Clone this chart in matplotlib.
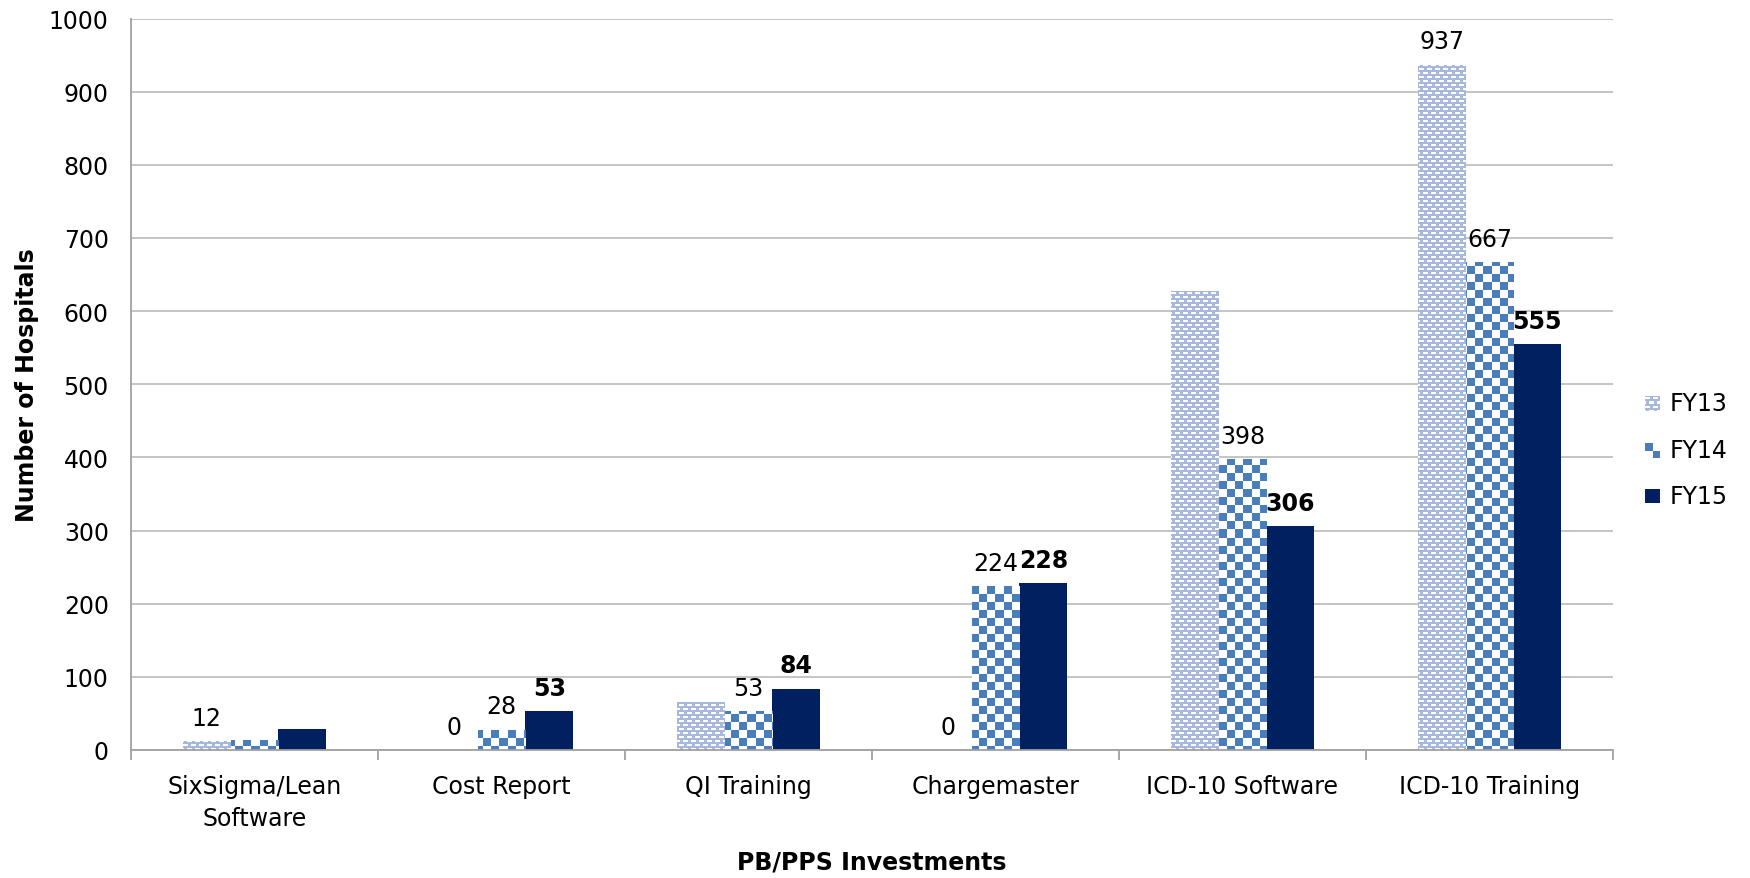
import numpy as np
import matplotlib
matplotlib.use("Agg")
import matplotlib.pyplot as plt

categories = ["SixSigma/Lean\nSoftware", "Cost Report", "QI Training",
              "Chargemaster", "ICD-10 Software", "ICD-10 Training"]
series_names = ["FY13", "FY14", "FY15"]
fy13 = [12, 0, 65, 0, 627, 937]
fy14 = [14, 28, 53, 224, 398, 667]
fy15 = [29, 53, 84, 228, 306, 555]
# labels shown in the original chart (None = no label)
fy13_labels = [12, 0, None, 0, None, 937]
fy14_labels = [None, 28, 53, 224, 398, 667]
fy15_labels = [None, 53, 84, 228, 306, 555]

FY13_COLOR = "#a7b8dc"
FY14_COLOR = "#4a7ebb"
FY15_COLOR = "#002060"
FS = 17

plt.rcParams['font.family'] = ['DejaVu Sans']

W_PX, H_PX = 1750, 879
L_PX, R_PX, T_PX, B_PX = 131, 1613, 19.5, 751
fig = plt.figure(figsize=(W_PX / 100, H_PX / 100), dpi=100)
ax = fig.add_axes([L_PX / W_PX, 1 - B_PX / H_PX,
                   (R_PX - L_PX) / W_PX, (B_PX - T_PX) / H_PX])

ax_w = int(round(R_PX - L_PX))
ax_h = int(round(B_PX - T_PX))


def hex_rgb(c):
    c = c.lstrip("#")
    return np.array([int(c[i:i + 2], 16) / 255 for i in (0, 2, 4)])


def brick_pattern(h, w, color):
    # light blue with rows of short white dashes, offset every other row
    img = np.ones((h, w, 3)) * hex_rgb(color)
    yy, xx = np.mgrid[0:h, 0:w]
    row = yy % 8
    col = xx % 8
    white = ((row >= 2) & (row < 4) & (col < 5)) | \
            ((row >= 6) & ((col >= 4) | (col < 1)))
    img[white] = 1.0
    return img


def checker_pattern(h, w, color, cell=8):
    img = np.ones((h, w, 3)) * hex_rgb(color)
    yy, xx = np.mgrid[0:h, 0:w]
    white = ((yy // cell + xx // cell) % 2) == 1
    img[white] = 1.0
    return img


pat13 = brick_pattern(ax_h, ax_w, FY13_COLOR)
pat14 = checker_pattern(ax_h, ax_w, FY14_COLOR)

x = np.arange(len(categories))
width = 0.194
xlim = (-0.5, len(categories) - 0.5)
ylim = (0, 1000)

bars13 = ax.bar(x - width, fy13, width, color=FY13_COLOR, linewidth=0, zorder=2)
bars14 = ax.bar(x, fy14, width, color=FY14_COLOR, linewidth=0, zorder=2)
bars15 = ax.bar(x + width, fy15, width, color=FY15_COLOR, linewidth=0, zorder=2)

# fill patterns: one full-size image per bar, clipped to the bar
for bars, pat in ((bars13, pat13), (bars14, pat14)):
    for rect in bars:
        if rect.get_height() <= 0:
            continue
        im = ax.imshow(pat, extent=(xlim[0], xlim[1], ylim[0], ylim[1]),
                       origin="upper", interpolation="nearest", aspect="auto",
                       zorder=2.5)
        im.set_clip_path(rect)

ax.set_xlim(*xlim)
ax.set_ylim(*ylim)

# data labels
for xs, labels, vals, weight in ((x - width, fy13_labels, fy13, "normal"),
                                 (x, fy14_labels, fy14, "normal"),
                                 (x + width, fy15_labels, fy15, "bold")):
    for xi, lab, v in zip(xs, labels, vals):
        if lab is None:
            continue
        ax.annotate(str(lab), (xi, v), xytext=(0, 8), textcoords="offset points",
                    ha="center", va="bottom", fontsize=FS, fontweight=weight,
                    color="black", zorder=4)

# axes styling
ax.set_yticks(np.arange(0, 1001, 100))
ax.yaxis.grid(True, color="#c4c4c4", linewidth=1.4, zorder=0)
ax.set_axisbelow(True)
ax.tick_params(axis="y", length=0, pad=16, labelsize=FS)
ax.set_xticks(x)
ax.set_xticklabels(categories)
ax.tick_params(axis="x", which="major", length=0, pad=17, labelsize=FS)
for lbl in ax.get_xticklabels():
    lbl.set_linespacing(1.45)
ax.set_xticks(np.arange(-0.5, len(categories), 1), minor=True)
ax.tick_params(axis="x", which="minor", length=7, width=1.3, color="#a0a0a0")
for s in ("top", "right"):
    ax.spines[s].set_visible(False)
for s in ("left", "bottom"):
    ax.spines[s].set_color("#a0a0a0")
    ax.spines[s].set_linewidth(1.3)

ax.set_ylabel("Number of Hospitals", fontsize=FS, fontweight="bold")
ax.yaxis.set_label_coords((39 - L_PX) / (R_PX - L_PX), 0.5)
ax.set_xlabel("PB/PPS Investments", fontsize=FS, fontweight="bold")
ax.xaxis.set_label_coords(0.5, (B_PX - 851) / (B_PX - T_PX))

# legend drawn by hand so the patterns match the bars
leg_y = [404, 451, 497]
mk = 15
leg_pats = [brick_pattern(mk, mk, FY13_COLOR),
            checker_pattern(mk, mk, FY14_COLOR),
            np.ones((mk, mk, 3)) * hex_rgb(FY15_COLOR)]
for name, yc, pat in zip(series_names, leg_y, leg_pats):
    lax = fig.add_axes([(1652 - mk / 2) / W_PX, 1 - (yc + mk / 2) / H_PX,
                        mk / W_PX, mk / H_PX])
    lax.imshow(pat, interpolation="nearest", aspect="auto")
    lax.axis("off")
    fig.text(1670 / W_PX, 1 - yc / H_PX, name, fontsize=FS, va="center", ha="left")

fig.savefig("out.png", dpi=100)
